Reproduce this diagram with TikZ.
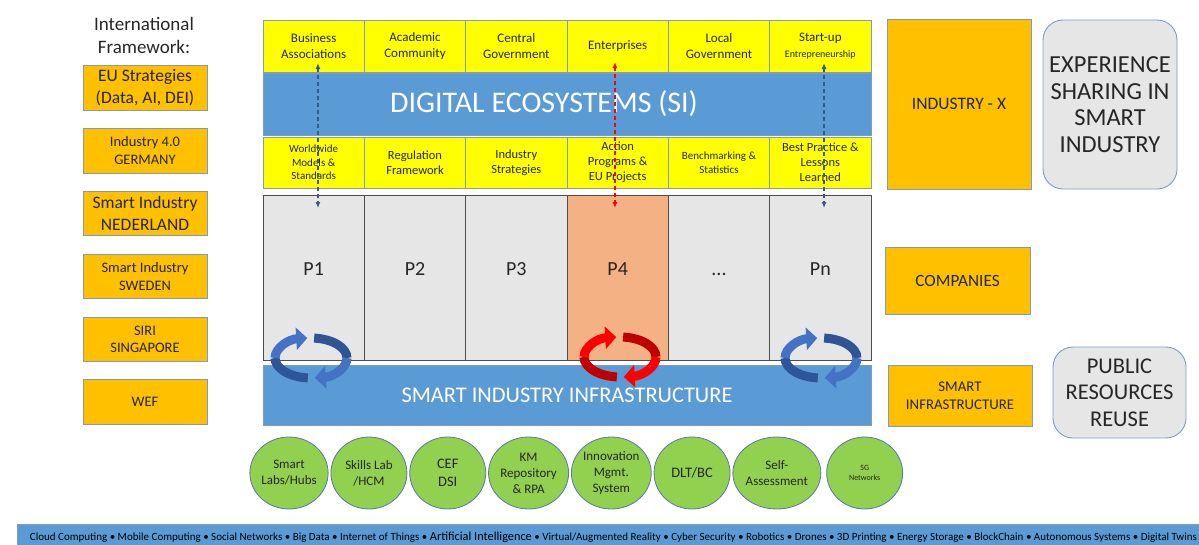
\documentclass[tikz,border=0pt]{standalone}
\usepackage{fontspec}
\setmainfont{Carlito}
\usepackage{tikz}
\usetikzlibrary{positioning,arrows.meta,shapes.geometric,calc}
\definecolor{sigold}{RGB}{255,192,0}
\definecolor{siyellow}{RGB}{255,255,0}
\definecolor{siblue}{RGB}{91,155,213}
\definecolor{edgeblue}{RGB}{125,155,195}
\definecolor{pgrey}{RGB}{231,230,230}
\definecolor{psalmon}{RGB}{244,177,131}
\definecolor{techgreen}{RGB}{146,208,80}
\definecolor{inkgray}{RGB}{38,38,38}
\definecolor{loopblue}{RGB}{68,114,196}
\definecolor{loopdark}{RGB}{47,85,151}
\definecolor{loopred}{RGB}{255,0,0}
\definecolor{loopmaroon}{RGB}{192,0,0}
\definecolor{linkblue}{RGB}{50,90,140}

% two clockwise half-loops round a centre: #1 centre, #2 light, #3 dark
\newcommand{\cycleloop}[3]{%
  \draw[line width=9pt, #3] (#1) ++(265:36 and 20) arc[start angle=265, end angle=180, x radius=36, y radius=20];
  \draw[line width=9pt, #2, -{Triangle[width=22pt,length=11pt]}] (#1) ++(180:36 and 20) arc[start angle=180, end angle=96, x radius=36, y radius=20];
  \draw[line width=9pt, #3] (#1) ++(85:36 and 20) arc[start angle=85, end angle=0, x radius=36, y radius=20];
  \draw[line width=9pt, #2, -{Triangle[width=22pt,length=11pt]}] (#1) ++(0:36 and 20) arc[start angle=0, end angle=-84, x radius=36, y radius=20];
}

\begin{document}
\begin{tikzpicture}[
        x=1pt, y=1pt,
        font=\fontsize{14.5}{17.7}\selectfont,
        framebox/.style={rectangle, draw=edgeblue, line width=0.8pt, fill=sigold, text=inkgray, align=center, inner sep=0pt, minimum width=124pt, minimum height=44.5pt},
        toprow/.style={rectangle, draw=edgeblue, line width=0.8pt, fill=siyellow, text=inkgray, align=center, inner sep=0pt, outer sep=0pt, minimum width=101.33pt, minimum height=#1},
        band/.style={rectangle, draw=edgeblue, line width=0.8pt, fill=siblue, text=white, inner sep=0pt, minimum width=608pt},
        pcol/.style={rectangle, draw=black!70, line width=0.8pt, fill=#1, text=inkgray, inner sep=0pt, outer sep=0pt, minimum width=101.33pt, minimum height=165pt, text height=14pt, text depth=18.8pt, font=\fontsize{20}{24}\selectfont},
        tech/.style={ellipse, draw=loopdark!80, line width=0.8pt, fill=techgreen, text=inkgray, align=center, inner sep=0pt, minimum width=76pt, minimum height=72pt, font=\fontsize{13}{16}\selectfont},
        sidebox/.style={rectangle, draw=edgeblue, line width=0.8pt, fill=sigold, text=inkgray, align=center, inner sep=0pt},
        sharebox/.style={rectangle, rounded corners=20pt, draw=edgeblue, line width=0.9pt, fill=pgrey, text=inkgray, align=center, inner sep=0pt},
        link/.style={{Latex[length=6pt,width=5pt]}-{Latex[length=6pt,width=5pt]}, line width=1.2pt, dash pattern=on 4pt off 3pt}
    ]
        \useasboundingbox (0,0) rectangle (1199,-544);

        % international framework
        \node[text=inkgray, align=center, font=\fontsize{19}{23}\selectfont] (intl) at (144,-35.5) {International\\Framework:};
        \node[framebox, font=\fontsize{17.5}{21.7}\selectfont] (eu) at (145,-88) {EU Strategies\\(Data, AI, DEI)};
        \node[framebox, below=17.5pt of eu] (ger) {Industry 4.0\\GERMANY};
        \node[framebox, below=17.5pt of ger, font=\fontsize{17.5}{21.7}\selectfont] (ned) {Smart Industry\\NEDERLAND};
        \node[framebox, below=17.5pt of ned] (swe) {Smart Industry\\SWEDEN};
        \node[framebox, below=17.5pt of swe] (sin) {SIRI\\SINGAPORE};
        \node[framebox, below=17.5pt of sin] (wef) {WEF};

        % stakeholders
        \node[toprow=52pt, font=\fontsize{13}{16}\selectfont] (ba) at (313.67,-46) {Business\\Associations};
        \node[toprow=52pt, font=\fontsize{13}{16}\selectfont, right=0pt of ba] (ac) {Academic\\Community};
        \node[toprow=52pt, font=\fontsize{13}{16}\selectfont, right=0pt of ac] (cg) {Central\\Government};
        \node[toprow=52pt, font=\fontsize{13}{16}\selectfont, right=0pt of cg] (en) {Enterprises};
        \node[toprow=52pt, font=\fontsize{13}{16}\selectfont, right=0pt of en] (lg) {Local\\Government};
        \node[toprow=52pt, font=\fontsize{13}{16}\selectfont, right=0pt of lg] (su) {Start-up\\{\fontsize{10}{12}\selectfont Entrepreneurship}};

        \node[band, minimum height=62pt, font=\fontsize{30}{34}\selectfont] (de) at (567,-104) {DIGITAL ECOSYSTEMS (SI)\hspace*{46pt}};

        % instruments
        \node[toprow=51pt, font=\fontsize{11}{13.5}\selectfont] (wm) at (313.67,-162.5) {Worldwide\\Models \&\\Standards};
        \node[toprow=51pt, font=\fontsize{12.5}{15}\selectfont, right=0pt of wm] (rf) {Regulation\\Framework};
        \node[toprow=51pt, font=\fontsize{12.5}{15}\selectfont, right=0pt of rf] (is) {Industry\\Strategies};
        \node[toprow=51pt, font=\fontsize{12.5}{15}\selectfont, right=0pt of is] (ap) {Action\\Programs \&\\EU Projects};
        \node[toprow=51pt, font=\fontsize{11}{13.5}\selectfont, right=0pt of ap] (bm) {Benchmarking \&\\Statistics};
        \node[toprow=51pt, font=\fontsize{12.5}{15}\selectfont, right=0pt of bm] (bp) {Best Practice \&\\Lessons\\Learned};

        % pilots
        \node[pcol=pgrey] (p1) at (313.67,-277.5) {P1};
        \node[pcol=pgrey, right=0pt of p1] (p2) {P2};
        \node[pcol=pgrey, right=0pt of p2] (p3) {P3};
        \node[pcol=psalmon, right=0pt of p3] (p4) {P4};
        \node[pcol=pgrey, right=0pt of p4] (pdots) {...};
        \node[pcol=pgrey, right=0pt of pdots] (pn) {Pn};

        \node[band, minimum height=60pt, font=\fontsize{22.4}{26}\selectfont] (sii) at (567,-395) {SMART INDUSTRY INFRASTRUCTURE};

        % loops between pilots and infrastructure
        \coordinate (c1) at (311,-358);
        \coordinate (c4) at (620,-357);
        \coordinate (cn) at (821,-358);
        \cycleloop{c1}{loopblue}{loopdark}
        \cycleloop{c4}{loopred}{loopmaroon}
        \cycleloop{cn}{loopblue}{loopdark}

        % links
        \coordinate (ba-in) at ($(ba.south)+(4.3,9)$);
        \coordinate (p1-in) at ($(p1.north)+(4.3,-13)$);
        \coordinate (en-in) at ($(en.south)+(-2.7,10)$);
        \coordinate (p4-in) at ($(p4.north)+(-2.7,-13)$);
        \coordinate (su-in) at ($(su.south)+(3.7,9)$);
        \coordinate (pn-in) at ($(pn.north)+(3.7,-13)$);
        \draw[link, linkblue] (ba-in) -- (p1-in);
        \draw[link, loopred] (en-in) -- (p4-in);
        \draw[link, linkblue] (su-in) -- (pn-in);

        % enablers
        \node[tech] (lab) at (289,-473) {Smart\\Labs/Hubs};
        \node[tech, right=2pt of lab] (skl) {Skills Lab\\/HCM};
        \node[tech, right=2pt of skl, font=\fontsize{14.5}{18}\selectfont] (cef) {CEF\\DSI};
        \node[tech, right=2pt of cef] (km) {KM\\Repository\\\& RPA};
        \node[tech, right=2pt of km] (inn) {Innovation\\Mgmt.\\System};
        \node[tech, right=2pt of inn, font=\fontsize{14.5}{18}\selectfont] (dlt) {DLT/BC};
        \node[tech, right=2pt of dlt] (sa) {Self-\\Assessment};
        \node[tech, right=5pt of sa, font=\fontsize{8}{10}\selectfont] (fg) {5G\\Networks};

        \node[rectangle, draw=edgeblue, line width=0.8pt, fill=siblue, text=black, inner sep=0pt, minimum width=1193pt, minimum height=26pt, font=\fontsize{11}{13}\selectfont] (techbar) at (613.5,-537) {Cloud Computing • Mobile Computing • Social Networks • Big Data • Internet of Things • {\fontsize{12.3}{13}\selectfont Artificial Intelligence} • Virtual/Augmented Reality • Cyber Security • Robotics • Drones • 3D Printing • Energy Storage • BlockChain • Autonomous Systems • Digital Twins};

        % right side
        \node[sidebox, minimum width=144pt, minimum height=170pt, font=\fontsize{17.5}{20}\selectfont] (ix) at (959,-104) {INDUSTRY - X};
        \node[sidebox, minimum width=145pt, minimum height=67pt, font=\fontsize{17.2}{20}\selectfont] (comp) at (957.5,-280.5) {COMPANIES};
        \node[sidebox, minimum width=144pt, minimum height=61pt, font=\fontsize{14.8}{18}\selectfont] (sinf) at (960,-395.5) {SMART\\INFRASTRUCTURE};
        \node[sharebox, minimum width=134pt, minimum height=169pt, font=\fontsize{24.5}{26.7}\selectfont] (exp) at (1110,-104.5) {EXPERIENCE\\SHARING IN\\SMART\\INDUSTRY};
        \node[sharebox, minimum width=133pt, minimum height=91pt, font=\fontsize{22.5}{26.5}\selectfont] (pub) at (1119.5,-392.5) {PUBLIC\\RESOURCES\\REUSE};
    \end{tikzpicture}
\end{document}
